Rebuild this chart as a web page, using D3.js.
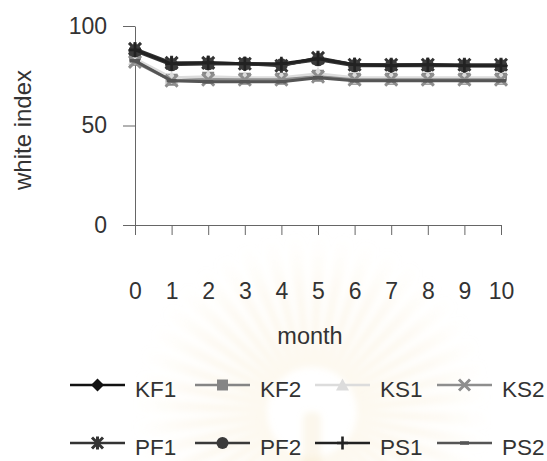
<!DOCTYPE html>
<html>
<head>
<meta charset="utf-8">
<script src="https://cdn.jsdelivr.net/npm/d3@7"></script>
<style>
  html, body { margin: 0; padding: 0; background: #fff; }
  svg { display: block; }
  text { font-family: "Liberation Sans", Arial, sans-serif; fill: #333; }
</style>
</head>
<body>
<svg id="chart" width="547" height="461"></svg>
<script>
// Storage months and white index readings for each sample
const months = [0, 1, 2, 3, 4, 5, 6, 7, 8, 9, 10];
const KF1 = [88, 81, 81, 81, 80.5, 83.5, 80.5, 80.5, 80.5, 80, 80];
const KF2 = [83, 73, 74, 73.5, 73.5, 75, 73.5, 73.5, 73.5, 73.5, 73.5];
const KS1 = [83.5, 74, 74.5, 74, 74, 76, 74, 74, 74, 74, 74];
const KS2 = [82, 72.5, 73, 73, 73, 74.5, 73, 73, 73, 73, 73];
const PF1 = [88.5, 81.5, 81.5, 81, 80, 84, 80.5, 80.5, 80.5, 80.5, 80.5];
const PF2 = [87.5, 80.5, 81, 81, 80.5, 83, 80, 80, 80, 80, 80];
const PS1 = [88, 81, 81.5, 81, 81, 83.5, 80.5, 80, 80.5, 80, 80];
const PS2 = [82.5, 72.5, 72, 72, 72, 74, 72.5, 72.5, 72.5, 72.5, 72.5];

const seriesNames = ["KF1", "KF2", "KS1", "KS2", "PF1", "PF2", "PS1", "PS2"];
const seriesValues = [KF1, KF2, KS1, KS2, PF1, PF2, PS1, PS2];
const yTicks = [0, 50, 100];

// Appearance of each series: line colour and marker symbol
const styles = {
  KF1: { color: "#111", marker: "diamond" },
  KF2: { color: "#858585", marker: "square" },
  KS1: { color: "#dcdcdc", marker: "triangle" },
  KS2: { color: "#8e8e8e", marker: "x" },
  PF1: { color: "#333", marker: "star" },
  PF2: { color: "#3a3a3a", marker: "circle" },
  PS1: { color: "#222", marker: "plus" },
  PS2: { color: "#555", marker: "dash" }
};

const svg = d3.select("#chart");

// ---- faint sunburst emblem in the background ----
const defs = svg.append("defs");
const grad = defs.append("radialGradient")
  .attr("id", "rayFade").attr("gradientUnits", "userSpaceOnUse")
  .attr("cx", 0).attr("cy", 0).attr("r", 180);
grad.append("stop").attr("offset", "0.25").attr("stop-color", "#f3dcaa").attr("stop-opacity", 0.32);
grad.append("stop").attr("offset", "0.7").attr("stop-color", "#f5e6c4").attr("stop-opacity", 0.2);
grad.append("stop").attr("offset", "1").attr("stop-color", "#f8eed8").attr("stop-opacity", 0);
defs.append("filter").attr("id", "soft")
  .append("feGaussianBlur").attr("stdDeviation", 3);

const emblem = svg.append("g").attr("transform", "translate(312,412)").attr("filter", "url(#soft)");
const nRays = 44;
const rayArc = d3.arc().innerRadius(45).outerRadius(180);
d3.range(nRays).forEach(i => {
  const a0 = (i / nRays) * 2 * Math.PI;
  const a1 = a0 + (2 * Math.PI / nRays) * 0.6;
  emblem.append("path")
    .attr("d", rayArc({ startAngle: a0, endAngle: a1 }))
    .attr("fill", "url(#rayFade)");
});
emblem.append("rect").attr("x", -9).attr("y", 0).attr("width", 18).attr("height", 60)
  .attr("rx", 6).attr("fill", "#f3dfb5").attr("opacity", 0.25);

// ---- scales and axes ----
const x = d3.scaleLinear().domain([0, 10]).range([135, 501]);
const y = d3.scaleLinear().domain([0, 100]).range([225, 26]);

const yAxis = svg.append("g").attr("transform", "translate(135,0)")
  .call(d3.axisLeft(y).tickValues(yTicks).tickSize(12).tickSizeOuter(0).tickPadding(16));
const xAxis = svg.append("g").attr("transform", "translate(0,225)")
  .call(d3.axisBottom(x).tickValues(months).tickSize(10).tickSizeOuter(0).tickPadding(48));

[yAxis, xAxis].forEach(g => {
  g.selectAll("path, line").attr("stroke", "#666").attr("stroke-width", 1);
  g.selectAll("text").style("font-size", "23px").style("font-family", "Liberation Sans, Arial, sans-serif").attr("fill", "#333");
});

svg.append("text")
  .attr("transform", "translate(31,130) rotate(-90)")
  .attr("text-anchor", "middle")
  .style("font-size", "24px")
  .text("white index");

svg.append("text")
  .attr("x", 310).attr("y", 344)
  .attr("text-anchor", "middle")
  .style("font-size", "23.5px")
  .text("month");

// ---- markers ----
function drawMarker(g, type, color, cx, cy, s) {
  const h = s / 2;
  switch (type) {
    case "diamond":
      g.append("path").attr("d", `M${cx},${cy - h - 1}L${cx + h + 1},${cy}L${cx},${cy + h + 1}L${cx - h - 1},${cy}Z`).attr("fill", color);
      break;
    case "square":
      g.append("rect").attr("x", cx - h).attr("y", cy - h).attr("width", s).attr("height", s).attr("fill", color);
      break;
    case "triangle":
      g.append("path").attr("d", `M${cx},${cy - h - 1}L${cx + h + 1},${cy + h}L${cx - h - 1},${cy + h}Z`).attr("fill", color);
      break;
    case "x":
      g.append("path").attr("d", `M${cx - h},${cy - h}L${cx + h},${cy + h}M${cx - h},${cy + h}L${cx + h},${cy - h}`)
        .attr("stroke", color).attr("stroke-width", 3);
      break;
    case "star":
      g.append("path").attr("d", `M${cx - h},${cy - h}L${cx + h},${cy + h}M${cx - h},${cy + h}L${cx + h},${cy - h}M${cx},${cy - h - 1}L${cx},${cy + h + 1}`)
        .attr("stroke", color).attr("stroke-width", 3);
      break;
    case "circle":
      g.append("circle").attr("cx", cx).attr("cy", cy).attr("r", h + 0.5).attr("fill", color);
      break;
    case "plus":
      g.append("path").attr("d", `M${cx},${cy - h - 1}L${cx},${cy + h + 1}M${cx - h},${cy}L${cx + h},${cy}`)
        .attr("stroke", color).attr("stroke-width", 2.6);
      break;
    case "dash":
      g.append("path").attr("d", `M${cx - h + 1},${cy}L${cx + h - 1},${cy}`)
        .attr("stroke", color).attr("stroke-width", 3.5);
      break;
  }
}

// ---- series lines and markers ----
const line = d3.line().x((d, i) => x(months[i])).y(d => y(d));
const plot = svg.append("g");
seriesNames.forEach((name, k) => {
  const st = styles[name];
  const g = plot.append("g");
  g.append("path").datum(seriesValues[k])
    .attr("d", line).attr("fill", "none")
    .attr("stroke", st.color).attr("stroke-width", 3).attr("stroke-linejoin", "round");
  seriesValues[k].forEach((v, i) => drawMarker(g, st.marker, st.color, x(months[i]), y(v), 12));
});

// ---- legend ----
const legendPos = [
  { name: "KF1", x: 70, y: 385 }, { name: "KF2", x: 195, y: 385 },
  { name: "KS1", x: 315, y: 385 }, { name: "KS2", x: 437, y: 385 },
  { name: "PF1", x: 70, y: 443 }, { name: "PF2", x: 195, y: 443 },
  { name: "PS1", x: 315, y: 443 }, { name: "PS2", x: 437, y: 443 }
];
const legend = svg.append("g");
legendPos.forEach(p => {
  const st = styles[p.name];
  const g = legend.append("g");
  g.append("line").attr("x1", p.x).attr("x2", p.x + 55).attr("y1", p.y).attr("y2", p.y)
    .attr("stroke", st.color).attr("stroke-width", 2.4);
  drawMarker(g, st.marker, st.color, p.x + 27.5, p.y, 11);
  g.append("text").attr("x", p.x + 65).attr("y", p.y + 12)
    .style("font-size", "22.5px").text(p.name);
});
</script>
</body>
</html>
